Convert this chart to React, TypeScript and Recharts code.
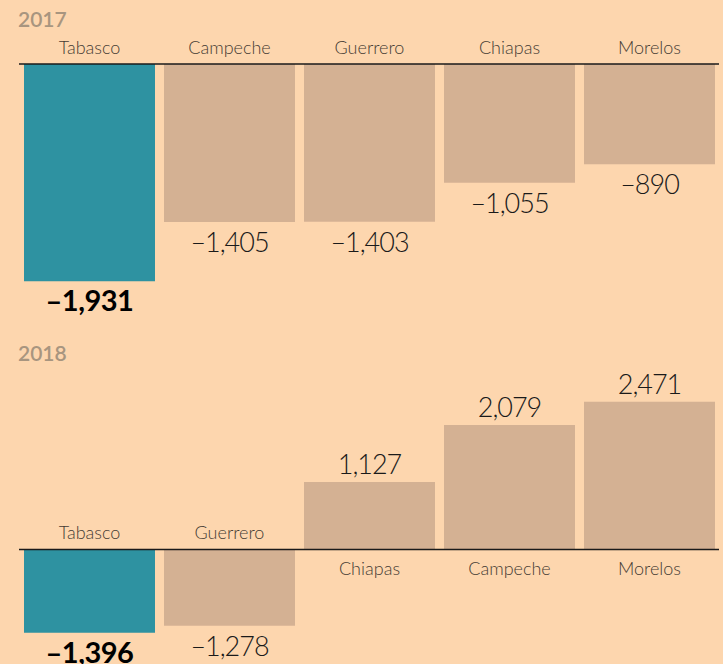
import React from 'react';
import { BarChart, Bar, XAxis, YAxis, Cell, ReferenceLine, LabelList } from 'recharts';

const states2017 = ['Tabasco', 'Campeche', 'Guerrero', 'Chiapas', 'Morelos'];
const values2017 = [-1931, -1405, -1403, -1055, -890];
const states2018 = ['Tabasco', 'Guerrero', 'Chiapas', 'Campeche', 'Morelos'];
const values2018 = [-1396, -1278, 1127, 2079, 2471];
const HIGHLIGHT = 'Tabasco';

const BG = '#FDD6AE';
const TEAL = '#2E92A1';
const TAN = '#D4B193';
const FONT = 'Lato, "Open Sans", sans-serif';

function fmt(v: number) {
  const s = Math.abs(v).toLocaleString('en-US');
  return v < 0 ? '\u2013' + s : s;
}

function makeData(names: string[], values: number[]) {
  return names.map((name, i) => ({ name, value: values[i] }));
}

function makeLabel(data: { name: string; value: number }[]) {
  return (props: any) => {
    const { x, y, width, height, index } = props;
    const d = data[index];
    if (!d) return null;
    const top = Math.min(y, y + height);
    const bottom = Math.max(y, y + height);
    const cx = x + width / 2;
    const neg = d.value < 0;
    const hl = d.name === HIGHLIGHT;
    const zero = neg ? top : bottom;
    const end = neg ? bottom : top;
    return (
      <g>
        <text
          x={cx}
          y={neg ? zero - 10 : zero + 26}
          textAnchor="middle"
          fontFamily={FONT}
          fontSize={18}
          fontWeight={300}
          fill="#463c34"
        >
          {d.name}
        </text>
        <text
          x={cx}
          y={neg ? end + 30 : end - 8}
          textAnchor="middle"
          fontFamily={FONT}
          fontSize={hl ? 29 : 27}
          fontWeight={hl ? 700 : 300}
          letterSpacing={hl ? -0.5 : -1}
          fill={hl ? '#000' : '#1a1a1a'}
        >
          {fmt(d.value)}
        </text>
      </g>
    );
  };
}

function Panel({ data, domain, height, margin }: any) {
  return (
    <BarChart width={723} height={height} data={data} margin={margin} barSize={131}>
      <XAxis dataKey="name" hide />
      <YAxis hide domain={domain} allowDataOverflow />
      <Bar dataKey="value" isAnimationActive={false}>
        {data.map((d: any) => (
          <Cell key={d.name} fill={d.name === HIGHLIGHT ? TEAL : TAN} />
        ))}
        <LabelList dataKey="value" content={makeLabel(data)} />
      </Bar>
      <ReferenceLine y={0} stroke="#1a1a1a" strokeWidth={1.5} />
    </BarChart>
  );
}

export default function App() {
  const d17 = makeData(states2017, values2017);
  const d18 = makeData(states2018, values2018);
  const yearStyle: React.CSSProperties = {
    position: 'absolute',
    left: 18,
    fontFamily: FONT,
    fontSize: 21,
    fontWeight: 600,
    color: '#a8957f',
    lineHeight: 1,
  };
  return (
    <div style={{ position: 'absolute', left: 0, top: 0, width: 723, height: 664, background: BG, overflow: 'hidden' }}>
      <div style={{ position: 'absolute', left: 0, top: 0 }}>
        <Panel data={d17} domain={[-2400, 0]} height={340} margin={{ top: 64, right: 4, bottom: 6, left: 19 }} />
      </div>
      <div style={{ position: 'absolute', left: 0, top: 340 }}>
        <Panel data={d18} domain={[-1900, 2800]} height={324} margin={{ top: 42, right: 4, bottom: 1, left: 19 }} />
      </div>
      <div style={{ ...yearStyle, top: 8 }}>2017</div>
      <div style={{ ...yearStyle, top: 342 }}>2018</div>
    </div>
  );
}
